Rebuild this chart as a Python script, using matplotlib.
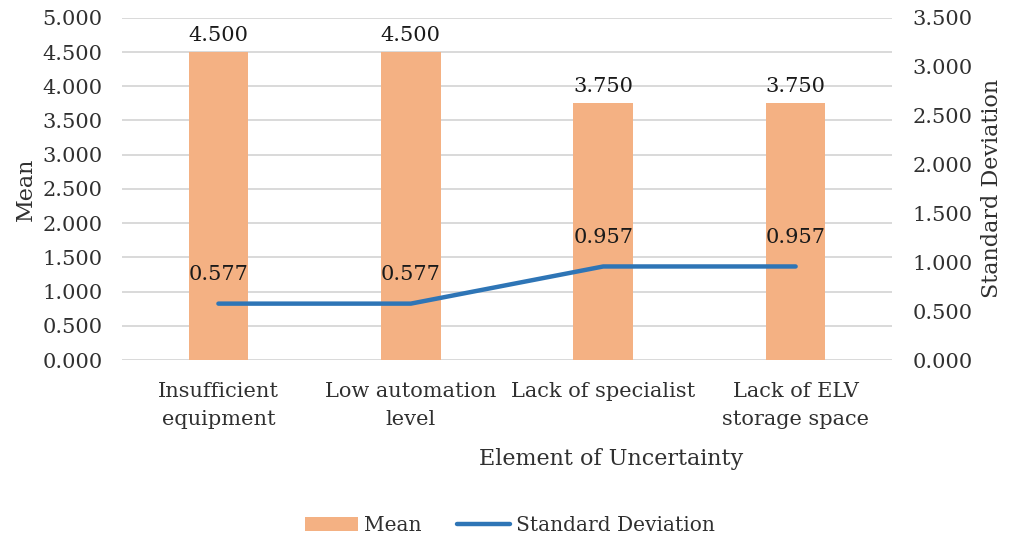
import numpy as np
import matplotlib.pyplot as plt

# uncertainty elements with mean score and standard deviation
categories = ["Insufficient\nequipment", "Low automation\nlevel",
              "Lack of specialist", "Lack of ELV\nstorage space"]
mean_vals = [4.5, 4.5, 3.75, 3.75]
std_vals = [0.577, 0.577, 0.957, 0.957]

plt.rcParams['font.family'] = ['DejaVu Serif']
plt.rcParams['font.size'] = 15

bar_color = "#F4B183"
line_color = "#2E75B6"
text_color = "#303030"

fig = plt.figure(figsize=(10.1, 5.39), dpi=100)
ax = fig.add_axes([0.121, 0.332, 0.762, 0.635])
ax2 = ax.twinx()

x = np.arange(len(categories))
ax.bar(x, mean_vals, width=0.31, color=bar_color, label="Mean", zorder=2)
for xi, v in zip(x, mean_vals):
    ax.annotate(f"{v:.3f}", (xi, v), xytext=(0, 5), textcoords="offset points",
                ha="center", va="bottom", color="#1a1a1a")

ax2.plot(x, std_vals, color=line_color, lw=3.2, solid_capstyle="round",
         label="Standard Deviation", zorder=3)
for xi, v in zip(x, std_vals):
    ax2.annotate(f"{v:.3f}", (xi, v), xytext=(0, 14), textcoords="offset points",
                 ha="center", va="bottom", color="#1a1a1a")

ax.set_xlim(-0.5, 3.5)
ax.set_ylim(0, 5)
ax.set_yticks(np.arange(0, 5.01, 0.5))
ax.set_yticklabels([f"{t:.3f}" for t in np.arange(0, 5.01, 0.5)])
ax2.set_ylim(0, 3.5)
ax2.set_yticks(np.arange(0, 3.51, 0.5))
ax2.set_yticklabels([f"{t:.3f}" for t in np.arange(0, 3.51, 0.5)])

ax.set_xticks(x)
ax.set_xticklabels(categories, linespacing=1.55)
ax.grid(axis="y", color="#D9D9D9", lw=1.4, zorder=0)
ax.set_axisbelow(True)

for a in (ax, ax2):
    for s in a.spines.values():
        s.set_visible(False)
    a.tick_params(length=0, colors=text_color, labelsize=15)
ax.tick_params(axis="y", pad=14)
ax2.tick_params(axis="y", pad=15)
ax.tick_params(axis="x", pad=16)

ax.set_xlabel("Element of Uncertainty", color=text_color, fontsize=16,
              labelpad=14, x=0.635)
ax.set_ylabel("Mean", color=text_color, fontsize=16, labelpad=4)
ax2.set_ylabel("Standard Deviation", color=text_color, fontsize=16, labelpad=6)

h1, l1 = ax.get_legend_handles_labels()
h2, l2 = ax2.get_legend_handles_labels()
fig.legend(h1 + h2, l1 + l2, loc="center", bbox_to_anchor=(0.505, 0.025),
           ncol=2, frameon=False, fontsize=14.5, handlelength=2.6,
           handletextpad=0.3, columnspacing=1.8, labelcolor=text_color)

fig.savefig("out.png", dpi=100)
